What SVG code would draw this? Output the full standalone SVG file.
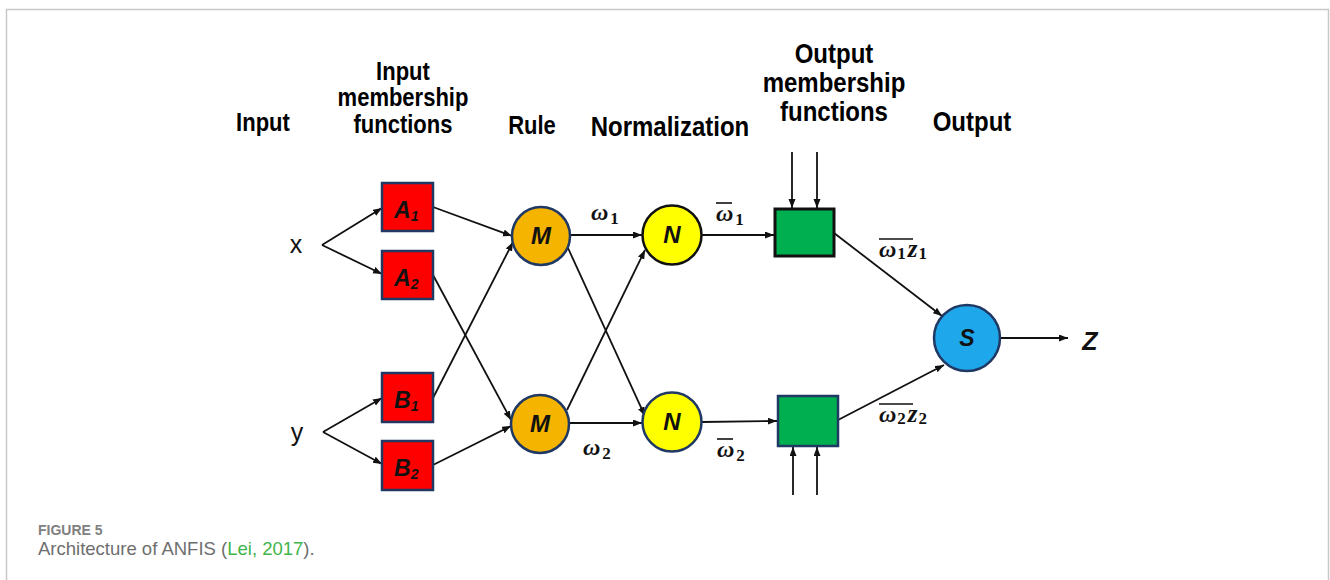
<svg xmlns="http://www.w3.org/2000/svg" width="1330" height="580" viewBox="0 0 1330 580">
<style>
.hd{font-family:"Liberation Sans",Arial,sans-serif;font-weight:bold;fill:#000;text-anchor:middle}
.h22{font-size:22px}
.h24{font-size:24px}
.ln{stroke:#111;stroke-width:1.8;fill:none;marker-end:url(#ah)}
.red{fill:#ff0000;stroke:#1f3864;stroke-width:2.5}
.nm{font-family:"Liberation Sans",Arial,sans-serif;font-weight:bold;font-style:italic;fill:#111}
.om{font-family:"Liberation Serif","DejaVu Serif",serif;font-weight:bold;font-style:italic;font-size:24px;fill:#111}
.sub{font-family:"Liberation Serif","DejaVu Serif",serif;font-weight:bold;font-style:normal;font-size:17px}
.z{font-family:"Liberation Serif","DejaVu Serif",serif;font-weight:bold;font-style:italic;font-size:25px}
.bar{stroke:#111;stroke-width:1.6}
.var{font-family:"Liberation Sans",Arial,sans-serif;font-size:25px;fill:#111;text-anchor:middle}
</style>
<defs>
<marker id="ah" markerUnits="userSpaceOnUse" markerWidth="10" markerHeight="8" refX="9" refY="3.5" orient="auto">
<path d="M0,0 L9,3.5 L0,7 z" fill="#111"/>
</marker>
</defs>
<rect x="0" y="0" width="1330" height="580" fill="#fff"/>
<path d="M6.5,580 L6.5,9.5 L1328.5,9.5 L1328.5,580" fill="none" stroke="#c8c8c8" stroke-width="1.5"/>

<g id="headers">
<text class="hd h22" x="263" y="131" transform="matrix(1 0 0 1.14 0 -18.34)">Input</text>
<text class="hd h22" x="403" y="80" transform="matrix(1 0 0 1.14 0 -11.2)">Input</text>
<text class="hd h22" x="403" y="106" transform="matrix(1 0 0 1.14 0 -14.84)">membership</text>
<text class="hd h22" x="403" y="133" transform="matrix(1 0 0 1.14 0 -18.62)">functions</text>
<text class="hd h22" x="532" y="134" transform="matrix(1 0 0 1.14 0 -18.76)">Rule</text>
<text class="hd h24" x="670" y="136" transform="matrix(1 0 0 1.14 0 -19.04)">Normalization</text>
<text class="hd h24" x="834" y="63" transform="matrix(1 0 0 1.14 0 -8.82)">Output</text>
<text class="hd h24" x="834" y="92" transform="matrix(1 0 0 1.14 0 -12.88)">membership</text>
<text class="hd h24" x="834" y="121" transform="matrix(1 0 0 1.14 0 -16.94)">functions</text>
<text class="hd h24" x="972" y="131" transform="matrix(1 0 0 1.14 0 -18.34)">Output</text>
</g>

<g id="connectors">
<path class="ln" d="M322,245 L382,208"/>
<path class="ln" d="M322,245 L382,274"/>
<path class="ln" d="M323,432 L382,398"/>
<path class="ln" d="M323,432 L382,464"/>
<path class="ln" d="M433,207 L512,236"/>
<path class="ln" d="M433,275 L511,420"/>
<path class="ln" d="M433,398 L513,242"/>
<path class="ln" d="M433,465 L511,426"/>
<path class="ln" d="M571,235 L642,235"/>
<path class="ln" d="M568,248 L645,416"/>
<path class="ln" d="M567,410 L645,250"/>
<path class="ln" d="M569,423 L642,423"/>
<path class="ln" d="M702,235 L774,235"/>
<path class="ln" d="M702,422 L777,421"/>
<path class="ln" d="M792,152 L792,208"/>
<path class="ln" d="M817,152 L817,208"/>
<path class="ln" d="M793,495 L793,447"/>
<path class="ln" d="M817,495 L817,447"/>
<path class="ln" d="M834,233 L942,316"/>
<path class="ln" d="M838,420 L944,365"/>
<path class="ln" d="M1000,338 L1068,338"/>
</g>

<g id="labels">
<text class="om" x="591" y="220">ω<tspan class="sub" dx="2" dy="4">1</tspan></text>
<text class="om" x="583" y="455">ω<tspan class="sub" dx="2" dy="4">2</tspan></text>
<line class="bar" x1="716" y1="203" x2="732" y2="203"/>
<text class="om" x="716" y="221">ω<tspan class="sub" dx="2" dy="4">1</tspan></text>
<line class="bar" x1="717" y1="439" x2="733" y2="439"/>
<text class="om" x="717" y="457">ω<tspan class="sub" dx="2" dy="4">2</tspan></text>
<line class="bar" x1="879" y1="239" x2="913" y2="239"/>
<text class="om" x="879" y="257">ω<tspan class="sub" dx="1" dy="2">1</tspan><tspan class="z" dx="2" dy="-2">z</tspan><tspan class="sub" dx="1" dy="2">1</tspan></text>
<line class="bar" x1="879" y1="404" x2="913" y2="404"/>
<text class="om" x="879" y="422">ω<tspan class="sub" dx="1" dy="2">2</tspan><tspan class="z" dx="2" dy="-2">z</tspan><tspan class="sub" dx="1" dy="2">2</tspan></text>
</g>

<g id="x"><text class="var" x="296" y="253">x</text></g>
<g id="y"><text class="var" x="297" y="441">y</text></g>

<g id="A1"><rect class="red" x="382" y="183" width="51" height="48"/><text class="nm" x="394" y="218" font-size="23">A<tspan font-size="14" dy="3">1</tspan></text></g>
<g id="A2"><rect class="red" x="382" y="251" width="51" height="48"/><text class="nm" x="394" y="286" font-size="23">A<tspan font-size="14" dy="3">2</tspan></text></g>
<g id="B1"><rect class="red" x="382" y="373" width="51" height="49"/><text class="nm" x="394" y="408" font-size="23">B<tspan font-size="14" dy="3">1</tspan></text></g>
<g id="B2"><rect class="red" x="382" y="441" width="51" height="49"/><text class="nm" x="394" y="476" font-size="23">B<tspan font-size="14" dy="3">2</tspan></text></g>

<g id="M1"><circle cx="541" cy="236" r="29" fill="#f5b400" stroke="#1f3864" stroke-width="2.5"/><text class="nm" x="541" y="244" font-size="24" text-anchor="middle">M</text></g>
<g id="M2"><circle cx="540" cy="424" r="29" fill="#f5b400" stroke="#1f3864" stroke-width="2.5"/><text class="nm" x="540" y="432" font-size="24" text-anchor="middle">M</text></g>
<g id="N1"><circle cx="672" cy="235" r="29.5" fill="#ffff00" stroke="#111" stroke-width="2.5"/><text class="nm" x="672" y="243" font-size="24" text-anchor="middle">N</text></g>
<g id="N2"><circle cx="672" cy="422" r="29.5" fill="#ffff00" stroke="#1f3864" stroke-width="2.5"/><text class="nm" x="672" y="430" font-size="24" text-anchor="middle">N</text></g>

<g id="G1"><rect x="775" y="209" width="59" height="47" fill="#00b050" stroke="#111" stroke-width="3"/></g>
<g id="G2"><rect x="778" y="396" width="60" height="50" fill="#00b050" stroke="#1f3864" stroke-width="2.5"/></g>

<g id="S"><circle cx="967" cy="338" r="33" fill="#1ea7ea" stroke="#1f3864" stroke-width="2.5"/><text class="nm" x="967" y="346" font-size="23" text-anchor="middle">S</text></g>
<g id="Z"><text class="nm" x="1090" y="350" font-size="25" text-anchor="middle">Z</text></g>

<g id="caption">
<text x="38" y="535" font-family="Liberation Sans,Arial,sans-serif" font-weight="bold" font-size="14" fill="#808080">FIGURE 5</text>
<text x="38" y="555" font-family="Liberation Sans,Arial,sans-serif" font-size="18.5" fill="#6e6e6e">Architecture of ANFIS (<tspan fill="#3fb54a">Lei, 2017</tspan>).</text>
</g>
</svg>
